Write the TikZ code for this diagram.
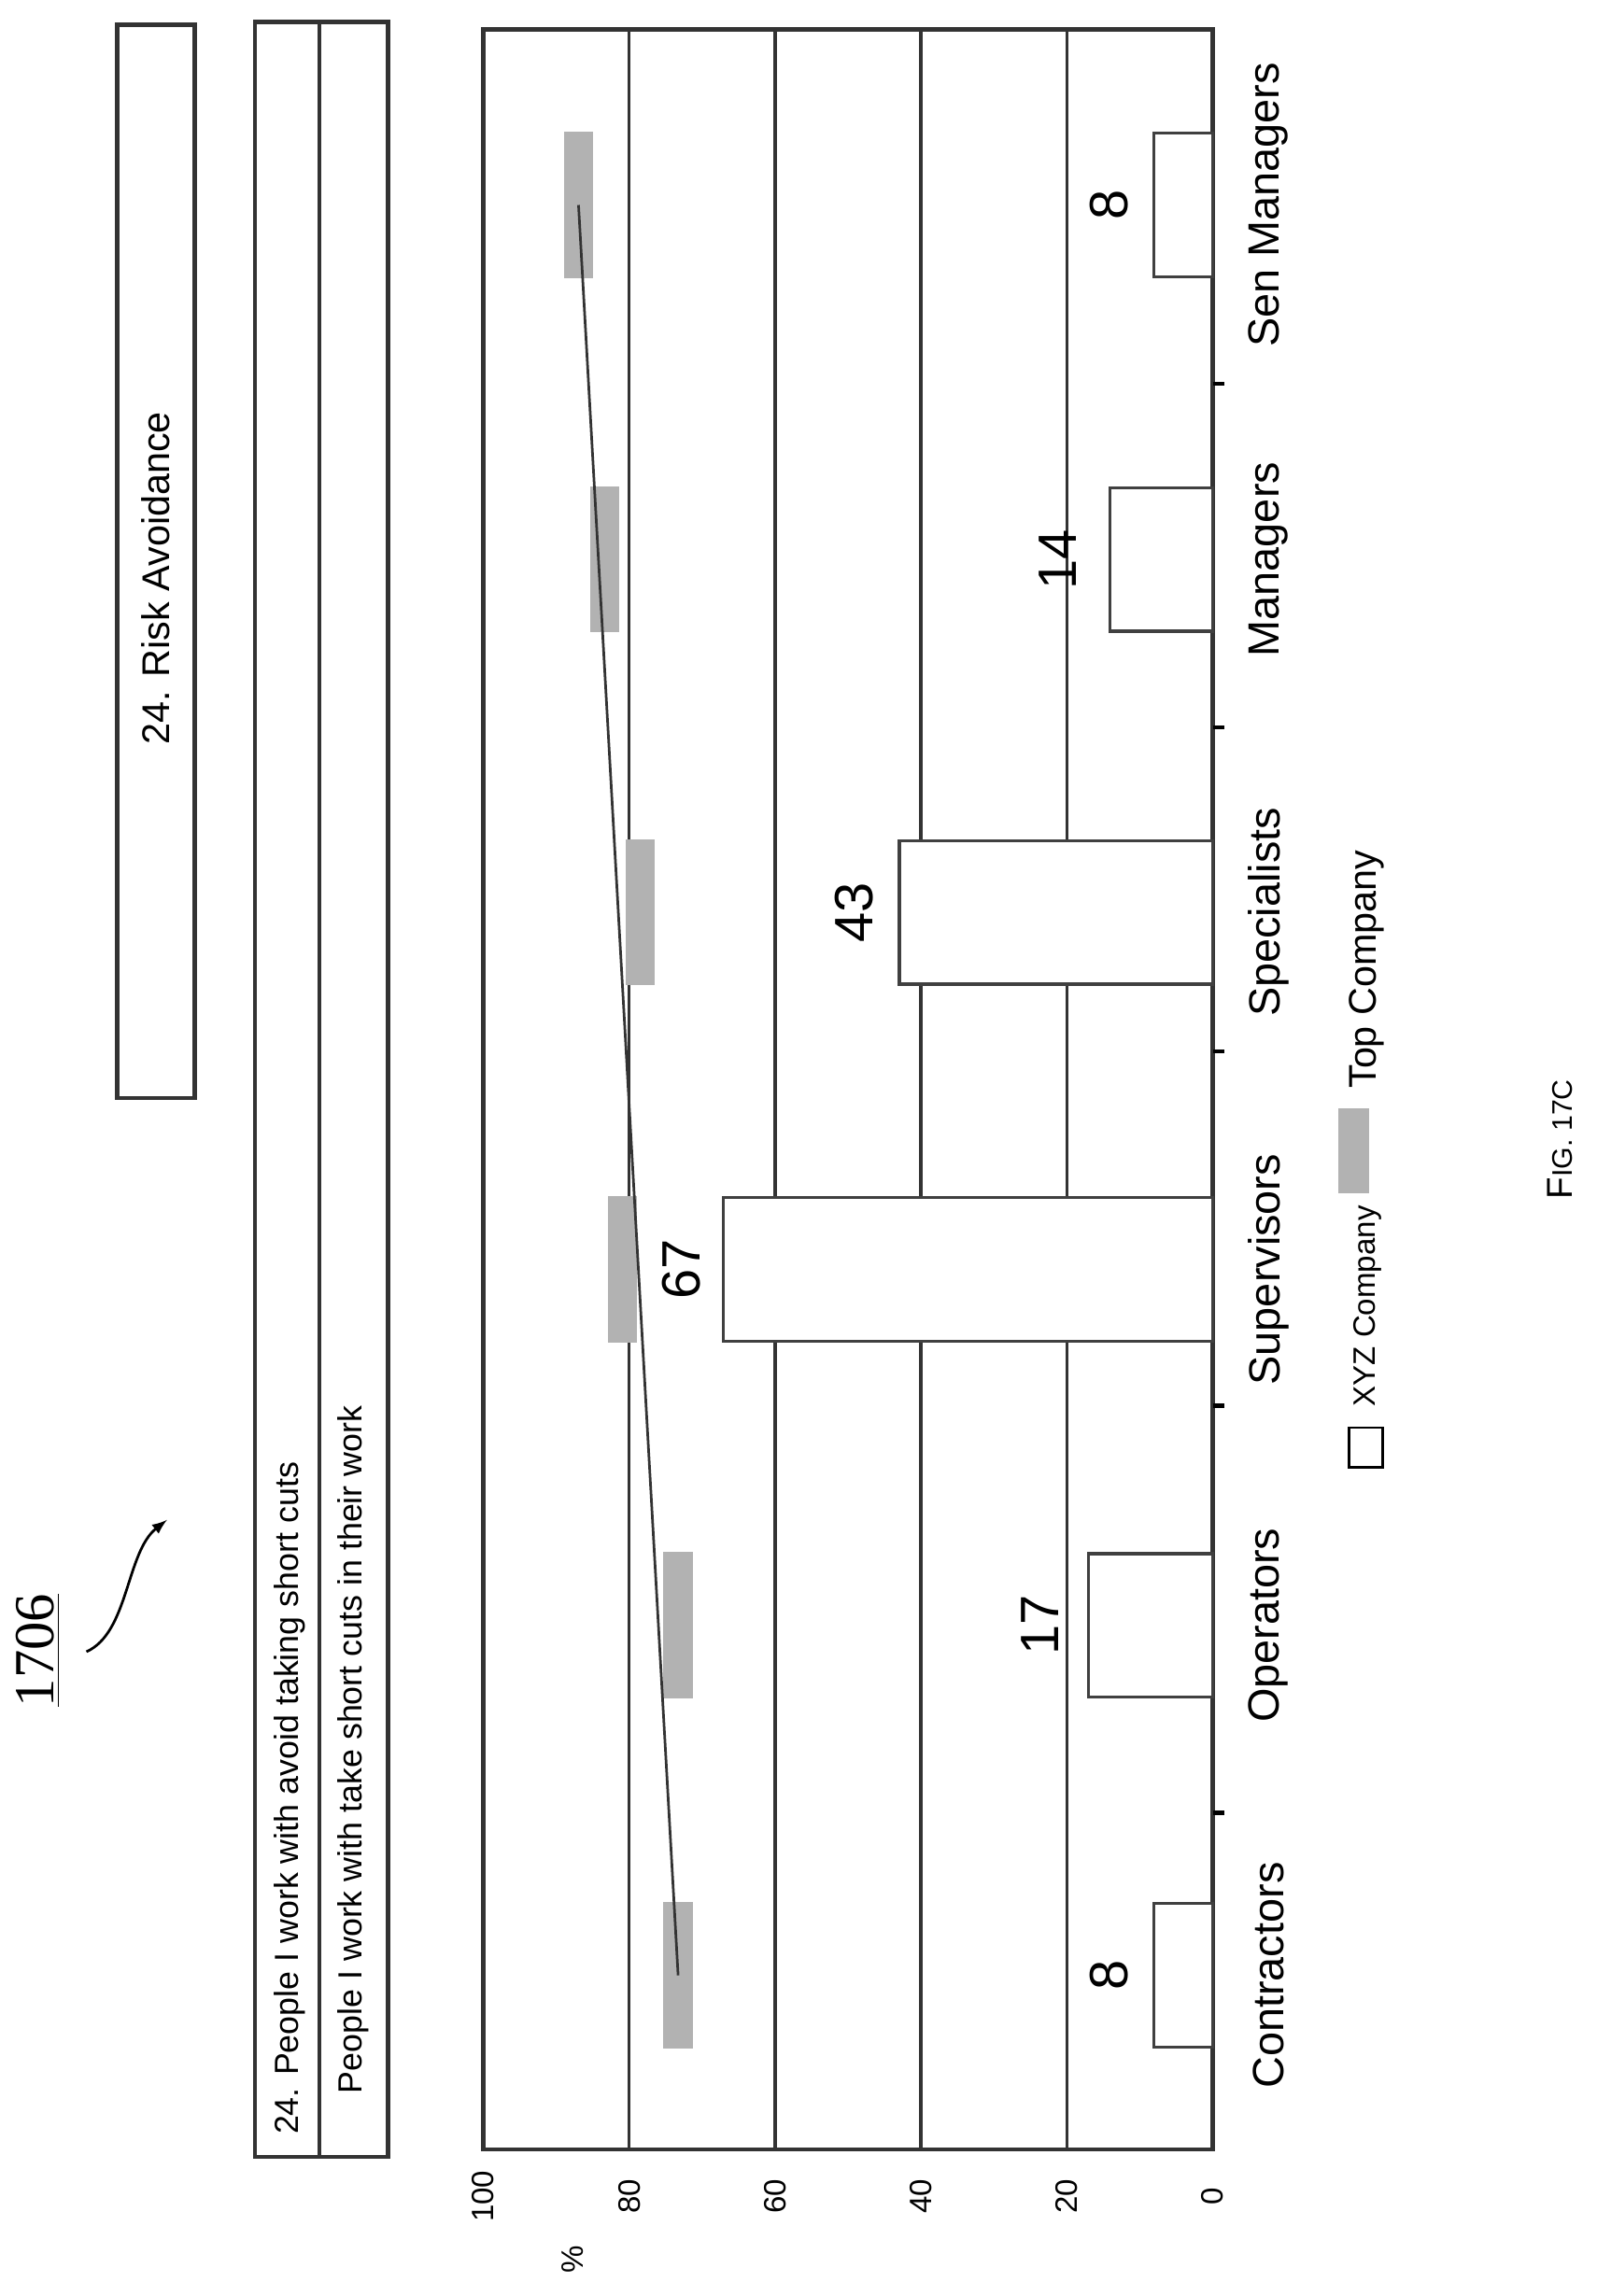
\documentclass[tikz,border=0pt]{standalone}
\usepackage{fontspec}
\setmainfont{Liberation Sans}
\newfontfamily\refserif{Liberation Serif}
\usepackage{tikz}

\tikzset{
    bar/.style={draw=black!75, fill=white, line width=1.2pt},
    topmark/.style={fill=black!30, draw=none},
    vtext/.style={rotate=90, inner sep=0pt},
    frame/.style={draw=black!80, line width=1.6pt}
}

\begin{document}
\begin{tikzpicture}[x=0.02cm, y=-0.02cm]
    \useasboundingbox (0,0) rectangle (1090,1568);

    % plot area and grid lines
    \draw[frame, fill=white] (330,20) rectangle (828,1468);
    \foreach \v in {20,40,60,80}
        \draw[black!80, line width=1.2pt] ({828-4.98*\v},20) -- ({828-4.98*\v},1468);
    \foreach \t in {262,497,718,960,1238}
        \draw[line width=1.5pt] (828,\t) -- (836,\t);

    % bars: XYZ Company
    \draw[bar] (788,1300) rectangle (828,1398);
    \draw[bar] (743,1061) rectangle (828,1159);
    \draw[bar] (494,818) rectangle (828,916);
    \draw[bar] (614,574) rectangle (828,672);
    \draw[bar] (758,333) rectangle (828,431);
    \draw[bar] (788,91) rectangle (828,189);

    % value labels
    \draw (757,1349) node (valA) [vtext] {\fontsize{21}{21}\selectfont 8};
    \draw (710,1110) node (valB) [vtext] {\fontsize{21}{21}\selectfont 17};
    \draw (465,867) node (valC) [vtext] {\fontsize{21}{21}\selectfont 67};
    \draw (583,623) node (valD) [vtext] {\fontsize{21}{21}\selectfont 43};
    \draw (722,382) node (valE) [vtext] {\fontsize{21}{21}\selectfont 14};
    \draw (757,140) node (valF) [vtext] {\fontsize{21}{21}\selectfont 8};

    % Top Company markers
    \draw (463,1349) node (topA) [topmark, minimum width=100*0.02cm, minimum height=20*0.02cm, rotate=90] {};
    \draw (463,1110) node (topB) [topmark, minimum width=100*0.02cm, minimum height=20*0.02cm, rotate=90] {};
    \draw (425,867) node (topC) [topmark, minimum width=100*0.02cm, minimum height=20*0.02cm, rotate=90] {};
    \draw (437,623) node (topD) [topmark, minimum width=100*0.02cm, minimum height=20*0.02cm, rotate=90] {};
    \draw (413,382) node (topE) [topmark, minimum width=100*0.02cm, minimum height=20*0.02cm, rotate=90] {};
    \draw (395,140) node (topF) [topmark, minimum width=100*0.02cm, minimum height=20*0.02cm, rotate=90] {};
    \draw[black!80, line width=1pt] (topA.center) -- (topF.center);

    % category labels
    \draw (866,1349) node (catA) [vtext] {\fontsize{17}{17}\selectfont Contractors};
    \draw (866,1110) node (catB) [vtext] {\fontsize{17}{17}\selectfont Operators};
    \draw (866,867) node (catC) [vtext] {\fontsize{17}{17}\selectfont Supervisors};
    \draw (866,623) node (catD) [vtext] {\fontsize{17}{17}\selectfont Specialists};
    \draw (866,382) node (catE) [vtext] {\fontsize{17}{17}\selectfont Managers};
    \draw (866,140) node (catF) [vtext] {\fontsize{17}{17}\selectfont Sen Managers};

    % value axis
    \foreach \v in {0,20,40,60,80,100}
        \draw ({828-4.98*\v},1500) node [vtext] {\fontsize{12}{12}\selectfont \v};
    \draw (391,1543) node (pct) [vtext] {\fontsize{12}{12}\selectfont \%};

    % legend
    \draw[line width=1pt, fill=white] (921,975) rectangle (944,1002);
    \draw (934,892) node (legA) [vtext] {\fontsize{12}{12}\selectfont XYZ Company};
    \draw[topmark] (914,757) rectangle (935,815);
    \draw (933,662) node (legB) [vtext] {\fontsize{15}{15}\selectfont Top Company};

    % header boxes
    \draw[frame] (174,15) rectangle (265,1473);
    \draw[black!80, line width=1.2pt] (218,15) -- (218,1473);
    \draw (198,1458) node (headA) [vtext, anchor=west] {\fontsize{13}{13}\selectfont 24. People I work with avoid taking short cuts};
    \draw (241,1430) node (headB) [vtext, anchor=west] {\fontsize{13}{13}\selectfont People I work with take short cuts in their work};
    \draw[frame] (80,17) rectangle (133,750);
    \draw (106,395) node (risk) [vtext] {\fontsize{15}{15}\selectfont 24. Risk Avoidance};

    % reference number and figure label
    \draw (26,1127) node (refnum) [vtext] {\refserif\fontsize{22}{22}\selectfont \underline{1706}};
    \coordinate (arrS) at (59,1128);
    \coordinate (arrE) at (114,1038);
    \draw[-latex, line width=1pt] (arrS) .. controls (88,1115) and (86,1060) .. (arrE);
    \draw (1065,778) node (fig) [vtext] {\fontsize{14}{14}\selectfont F\fontsize{11}{11}\selectfont IG. 17C};
\end{tikzpicture}
\end{document}
